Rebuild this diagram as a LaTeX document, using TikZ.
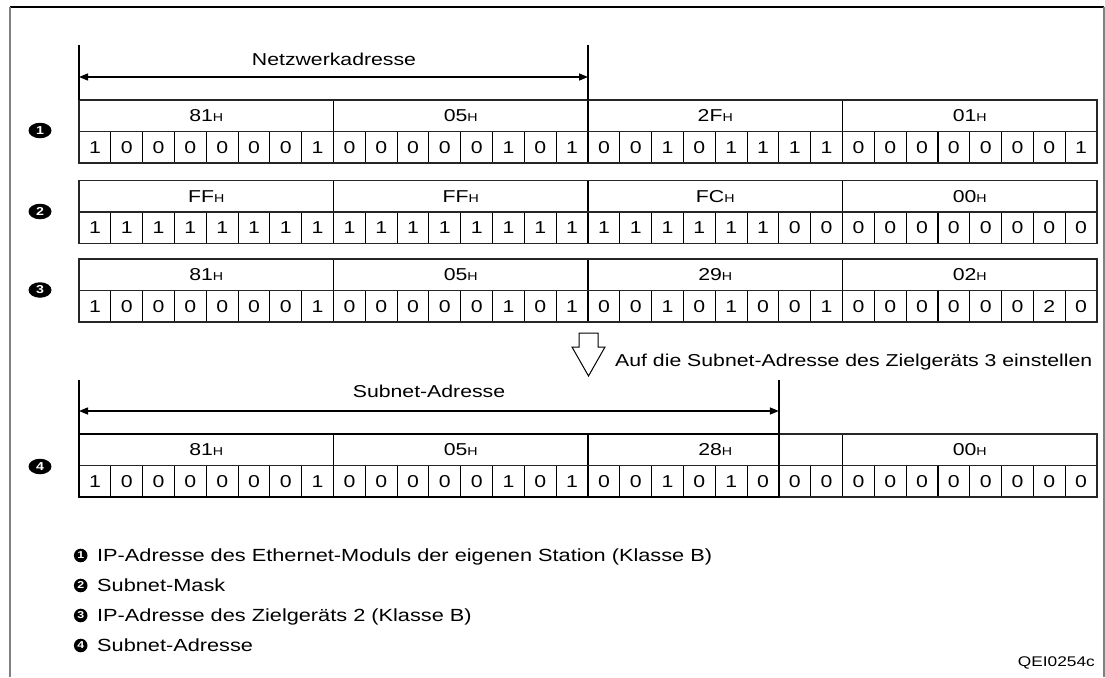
\documentclass[tikz,border=0pt]{standalone}
\usepackage{fontspec}
\setmainfont[FakeStretch=1.235]{Liberation Sans}
\usetikzlibrary{arrows.meta,shapes.geometric}
\newcommand{\Hs}{{\fontsize{11.5}{11.5}\selectfont H}}
\def\W{31.8125}
\newcommand{\gridrow}[4]{%
  \foreach \b [count=\i from 0] in {#3} \node[bitnum] (#1b\i) at ({79+(\i+0.5)*\W},#2+47.25) {\b};
  \foreach \h [count=\j from 0] in {#4} \node[hexnum] (#1h\j) at ({79+(\j*8+4)*\W},#2+15.75) {\h\Hs};
  \foreach \i in {1,...,31} \draw[bitsep] ({79+\i*\W},#2+31.5) -- ({79+\i*\W},#2+63);
  \foreach \j in {1,2,3} \draw[bytesep] ({79+\j*8*\W},#2) -- ({79+\j*8*\W},#2+63);
  \draw[outer] (79,#2) rectangle (1097,#2+63);
  \draw[outer] (79,#2+31.5) -- (1097,#2+31.5);
}
\begin{document}
\begin{tikzpicture}[x=1pt,y=-1pt,
  bitnum/.style={inner sep=0pt,font=\fontsize{17.2}{17.2}\selectfont},
  hexnum/.style={inner sep=0pt,font=\fontsize{17.2}{17.2}\selectfont},
  lbl/.style={inner sep=0pt,font=\fontsize{17.2}{17.2}\selectfont},
  notetext/.style={inner sep=0pt,anchor=base west,font=\fontsize{17.2}{17.2}\selectfont},
  legtext/.style={inner sep=0pt,anchor=base west,font=\fontsize{17.6}{17.6}\selectfont},
  bitsep/.style={line width=1.1pt,black},
  bytesep/.style={line width=1.3pt,black},
  outer/.style={line width=1.2pt,black!85},
  dimline/.style={line width=1.3pt,black},
  dimarrow/.style={line width=1.4pt,black,{Triangle[length=9pt,width=7pt]}-{Triangle[length=9pt,width=7pt]}},
  rowmark/.style={ellipse,fill=black,minimum width=23pt,minimum height=15.5pt,inner sep=0pt,text=white,font=\bfseries\fontsize{11.5}{11.5}\selectfont},
  legmark/.style={circle,fill=black,minimum size=13.6pt,inner sep=0pt,text=white,font=\bfseries\fontsize{10}{10}\selectfont},
]
\useasboundingbox (0,0) rectangle (1105,677);
% frame
\draw[line width=1.4pt,black] (10,7) -- (1104,7);
\draw[line width=1.4pt,black!50] (10,7) -- (10,677);
\draw[line width=1.4pt,black!50] (1104,7) -- (1104,677);

% rows
\gridrow{r1}{100}{1,0,0,0,0,0,0,1,0,0,0,0,0,1,0,1,0,0,1,0,1,1,1,1,0,0,0,0,0,0,0,1}{81,05,2F,01}
\gridrow{r2}{180.5}{1,1,1,1,1,1,1,1,1,1,1,1,1,1,1,1,1,1,1,1,1,1,0,0,0,0,0,0,0,0,0,0}{FF,FF,FC,00}
\gridrow{r3}{259}{1,0,0,0,0,0,0,1,0,0,0,0,0,1,0,1,0,0,1,0,1,0,0,1,0,0,0,0,0,0,2,0}{81,05,29,02}
\gridrow{r4}{434}{1,0,0,0,0,0,0,1,0,0,0,0,0,1,0,1,0,0,1,0,1,0,0,0,0,0,0,0,0,0,0,0}{81,05,28,00}
\draw[bytesep] ({79+22*\W},434) -- ({79+22*\W},497);
\draw[line width=2.6pt,black] (79,434) rectangle ({79+22*\W},497);

% row markers
\node[rowmark] (m1) at (40,130.5) {1};
\node[rowmark] (m2) at (40,211.5) {2};
\node[rowmark] (m3) at (40,290) {3};
\node[rowmark] (m4) at (40,466.5) {4};

% Netzwerkadresse dimension
\coordinate (nLt) at (79,45);
\coordinate (nLb) at (79,100);
\coordinate (nRt) at (588,45);
\coordinate (nRb) at (588,100);
\coordinate (nA) at (79,77);
\coordinate (nB) at (588,77);
\draw[dimline] (nLt) -- (nLb);
\draw[dimline] (nRt) -- (nRb);
\draw[dimarrow] (nA) -- (nB);
\node[lbl] (netz) at (334,59.5) {Netzwerkadresse};

% hollow arrow + note
\draw[line width=1pt,fill=white] (579,333) -- (598,333) -- (598,347) -- (605,347) -- (588.5,376) -- (572,347) -- (579,347) -- cycle;
\node[notetext] (note) at (615,366) {Auf die Subnet-Adresse des Zielgeräts 3 einstellen};

% Subnet-Adresse dimension
\coordinate (sLt) at (79,380);
\coordinate (sLb) at (79,434);
\coordinate (sRt) at ({79+22*\W},380);
\coordinate (sRb) at ({79+22*\W},434);
\coordinate (sA) at (79,411);
\coordinate (sB) at ({79+22*\W},411);
\draw[dimline] (sLt) -- (sLb);
\draw[dimline] (sRt) -- (sRb);
\draw[dimarrow] (sA) -- (sB);
\node[lbl] (subn) at (429,391.5) {Subnet-Adresse};

% legend
\node[legmark] (l1) at (80.7,555.5) {1};
\node[legmark] (l2) at (80.7,585.5) {2};
\node[legmark] (l3) at (80.7,615.5) {3};
\node[legmark] (l4) at (80.7,645.5) {4};
\node[legtext] (t1) at (97,561.5) {IP-Adresse des Ethernet-Moduls der eigenen Station (Klasse B)};
\node[legtext] (t2) at (97,591.5) {Subnet-Mask};
\node[legtext] (t3) at (97,621.5) {IP-Adresse des Zielgeräts 2 (Klasse B)};
\node[legtext] (t4) at (97,651.5) {Subnet-Adresse};
\node[inner sep=0pt,anchor=base east,font=\fontsize{14}{14}\selectfont] (code) at (1095,666) {QEI0254c};
\end{tikzpicture}
\end{document}
